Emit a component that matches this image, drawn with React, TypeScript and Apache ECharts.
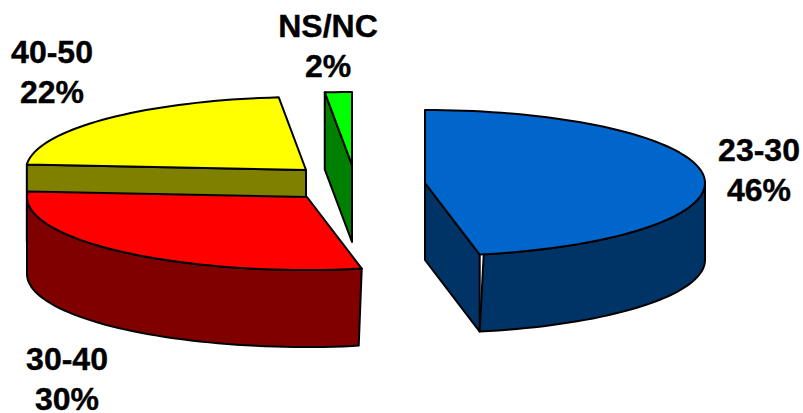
import React, { useEffect, useRef } from "react";
import * as echarts from "echarts";

const categories = ["23-30", "30-40", "40-50", "NS/NC"];
const shares = [46, 30, 22, 2];
const shareLabels = ["46%", "30%", "22%", "2%"];

const topColors = ["#0066CC", "#FF0000", "#FFFF00", "#00FF00"];
const sideColors = ["#003366", "#800000", "#808000", "#008000"];
const paintRank = [3, 2, 1, 0];
const explodeOffsets = [[72, -1], [-46, 13], [-47, -14], [-1, -19]];
const labelCenters = [[759, 170], [67, 379], [52, 72], [328, 46]];
// horizontal skew of the rim's front edge, top and bottom
const rimSkew = [[4, 0], [0, -3], [0, 0], [0, 0]];

const PIE = { cx: 353, cy: 184, rx: 280, ry: 73, depth: 77, warp: 6.5 };
const total = shares.reduce((a, b) => a + b, 0);

const rad = (d: number) => (d * Math.PI) / 180;
// slight perspective: angles on the tilted disc are not the flat pie's angles
const viewAngle = (deg: number) => deg - PIE.warp * Math.sin(rad(2 * deg));

function renderItem(params: any, api: any) {
  const i = params.dataIndex;
  const before = shares.slice(0, i).reduce((a, b) => a + b, 0);
  const a0 = viewAngle((before / total) * 360);
  const a1 = viewAngle(((before + api.value(1)) / total) * 360);
  const cx = PIE.cx + explodeOffsets[i][0];
  const cy = PIE.cy + explodeOffsets[i][1];
  const at = (deg: number, dy = 0): number[] => [
    cx + PIE.rx * Math.sin(rad(deg)),
    cy - PIE.ry * Math.cos(rad(deg)) + dy,
  ];
  const arc = (from: number, to: number, dy = 0) => {
    const n = Math.max(2, Math.ceil(Math.abs(to - from) / 2));
    const pts: number[][] = [];
    for (let k = 0; k <= n; k++) pts.push(at(from + ((to - from) * k) / n, dy));
    return pts;
  };
  const base = paintRank[i] * 10;
  const line = { stroke: "#000", lineWidth: 2, lineJoin: "round" };
  const poly = (points: number[][], fill: string, z: number) => ({
    type: "polygon",
    shape: { points },
    style: { fill, ...line },
    z2: base + z,
    silent: true,
  });
  const center = [cx, cy];
  const down = (p: number[]) => [p[0], p[1] + PIE.depth];
  const cut = (deg: number, z: number) =>
    poly([center, at(deg), down(at(deg)), down(center)], sideColors[i], z);

  const children: any[] = [];
  // a cut face shows only when it turns towards the viewer
  if (a1 > 0 && a1 < 180) children.push(cut(a1, 0));
  if (a0 > 180 && a0 < 360) children.push(cut(a0, 1));
  const s0 = Math.max(a0, 90);
  const s1 = Math.min(a1, 270);
  if (s1 > s0) {
    // whichever end of the rim faces the viewer carries the skew
    const topArc = arc(s0, s1);
    const bottomArc = arc(s1, s0, PIE.depth);
    const frontTop = i === 0 ? topArc.length - 1 : 0;
    const frontBottom = i === 0 ? 0 : bottomArc.length - 1;
    topArc[frontTop] = [topArc[frontTop][0] + rimSkew[i][0], topArc[frontTop][1]];
    bottomArc[frontBottom] = [bottomArc[frontBottom][0] + rimSkew[i][1], bottomArc[frontBottom][1]];
    children.push(poly([...topArc, ...bottomArc], sideColors[i], 2));
  }
  children.push(poly([center, ...arc(a0, a1)], topColors[i], 3));
  children.push({
    type: "text",
    z2: 100,
    silent: true,
    style: {
      text: api.value(0) + "\n" + shareLabels[i],
      x: labelCenters[i][0],
      y: labelCenters[i][1],
      align: "center",
      verticalAlign: "middle",
      fill: "#000",
      stroke: "#000",
      lineWidth: 0.4,
      fontFamily: '"Liberation Sans", Arial, sans-serif',
      fontWeight: "bold",
      fontSize: 32,
      lineHeight: 40,
    },
  });
  return { type: "group", children };
}

export default function App() {
  const ref = useRef<HTMLDivElement>(null);
  useEffect(() => {
    document.body.style.margin = "0";
    const chart = echarts.init(ref.current!, null, { renderer: "svg" });
    chart.setOption({
      animation: false,
      backgroundColor: "#fff",
      series: [
        {
          type: "custom",
          coordinateSystem: "none",
          renderItem,
          data: categories.map((c, i) => [c, shares[i]]),
        },
      ],
    });
    return () => chart.dispose();
  }, []);
  return <div ref={ref} style={{ width: 803, height: 413 }} />;
}
